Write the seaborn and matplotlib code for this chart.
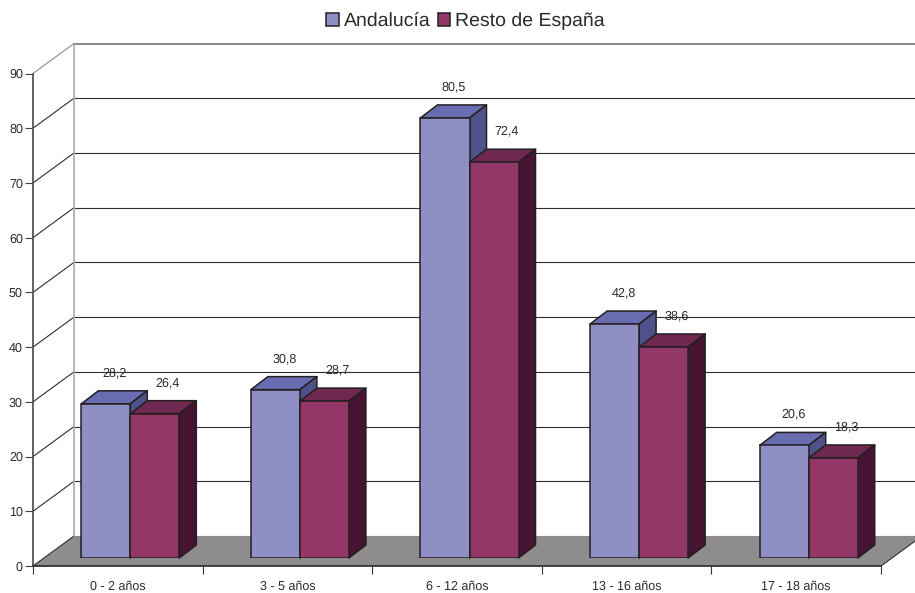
import numpy as np
import pandas as pd
import matplotlib
matplotlib.use("Agg")
import matplotlib.pyplot as plt
from matplotlib.patches import Polygon
from matplotlib.transforms import Affine2D, IdentityTransform
import seaborn as sns

# Values
grupos = ['0 - 2 años', '3 - 5 años', '6 - 12 años', '13 - 16 años', '17 - 18 años']
andalucia = [28.2, 30.8, 80.5, 42.8, 20.6]
resto = [26.4, 28.7, 72.4, 38.6, 18.3]
series = ['Andalucía', 'Resto de España']
y_ticks = [0, 10, 20, 30, 40, 50, 60, 70, 80, 90]

# Colours of each series: front, top, side
front = ['#8F8FC6', '#933769']
top = ['#6A6CB2', '#6F2850']
side = ['#4F5288', '#471332']
EDGE = '#231F20'

W, H = 915, 593

df = pd.DataFrame({
    'Grupo': grupos * 2,
    'Valor': andalucia + resto,
    'Serie': [series[0]] * 5 + [series[1]] * 5,
})

sns.set_style("white")
plt.rcParams['font.family'] = ['Liberation Sans', 'DejaVu Sans']
plt.rcParams['text.hinting'] = 'no_hinting'


def box(left, right, bottom, topp):
    # Pixel box of the picture to figure fractions
    return [left / W, 1 - bottom / H, (right - left) / W, (bottom - topp) / H]


fig = plt.figure(figsize=(W / 100, H / 100), dpi=100)

# Frame with the axes and the 3D walls
ax = fig.add_axes(box(33, 881, 566, 73.5))
ax.set_xlim(-0.5, 4.5)
ax.set_ylim(0, 90)
for s in ['top', 'right']:
    ax.spines[s].set_visible(False)
ax.spines['left'].set_color('#555555')
ax.spines['left'].set_linewidth(1.3)
ax.spines['bottom'].set_color('#333333')
ax.spines['bottom'].set_linewidth(1.3)
ax.spines['left'].set_zorder(5)
ax.spines['bottom'].set_zorder(5)

ax.set_yticks(y_ticks)
ax.tick_params(axis='y', left=True, length=5.8, width=0.8, color='#444444', pad=1.5, labelsize=9, labelcolor='#2b2b2b')
ax.set_xticks(np.arange(6) - 0.5, labels=[])
ax.tick_params(axis='x', which='major', bottom=True, length=5.8, width=0.8, color='#333333')
ax.set_xticks(np.arange(5), labels=grupos, minor=True)
ax.tick_params(axis='x', which='minor', bottom=False, length=0, pad=10.5, labelsize=9, labelcolor='#2b2b2b')

# Depth of the back wall, in pixels
wall_dx, wall_dy = 41, 30
wall = ax.transData + Affine2D().translate(wall_dx, wall_dy)

floor_front = ax.transData.transform([(-0.5, 0), (4.5, 0)])
floor = Polygon(
    [floor_front[0], floor_front[1], floor_front[1] + [wall_dx, wall_dy], floor_front[0] + [wall_dx, wall_dy]],
    closed=True, facecolor='#8E8C8C', edgecolor='none', transform=IdentityTransform(), clip_on=False, zorder=1,
)
ax.add_patch(floor)

for v in y_ticks:
    col = '#8A8A8A' if v in (0, 90) else '#2E2E2E'
    lw = 1.4 if v == 90 else 0.8
    ax.plot([-0.5, 4.5], [v, v], transform=wall, color=col, lw=lw, clip_on=False, zorder=2)
    p = ax.transData.transform((-0.5, v))
    ax.plot([p[0], p[0] + wall_dx], [p[1], p[1] + wall_dy], transform=IdentityTransform(),
            color='#8A8A8A' if v == 90 else '#2E2E2E', lw=0.8, clip_on=False, zorder=2)
ax.plot([-0.5, -0.5], [0, 90], transform=wall, color='#ABABAB', lw=1.2, clip_on=False, zorder=2)

p = ax.transData.transform((4.5, 0))
ax.plot([p[0], p[0] + wall_dx], [p[1], p[1] + wall_dy], transform=IdentityTransform(),
        color='#2E2E2E', lw=0.8, clip_on=False, zorder=2)

# Bars sit inside the depth of the floor, so their axes is shifted
ax_bars = fig.add_axes(box(33 + 12.5, 881 + 12.5, 558, 66))
ax_bars.patch.set_alpha(0)
sns.barplot(
    data=df, x='Grupo', y='Valor', hue='Serie', order=grupos, hue_order=series,
    palette=front, saturation=1, width=0.578, edgecolor=EDGE, linewidth=1.1, ax=ax_bars,
)
ax_bars.set_xlim(-0.5, 4.5)
ax_bars.set_ylim(0, 90)
ax_bars.axis('off')

sns.move_legend(
    ax_bars, 'center', bbox_to_anchor=(465.5 / W, 1 - 21.5 / H), bbox_transform=fig.transFigure,
    ncol=2, title=None, frameon=False, fontsize=14, handlelength=0.64, handleheight=0.64,
    handletextpad=0.25, columnspacing=0.4, labelcolor='#2b2b2b',
)

# Depth of the bars, in pixels
bar_dx, bar_dy = 17, 13
label_dx = [9, 13]

# Seaborn also leaves empty legend patches on the axes, only the first ten are bars
bars = list(ax_bars.patches)[:len(df)]
for i, bar in enumerate(bars):
    s = i // 5
    bar.set_zorder(3 + s * 2 + 1)
    x0, x1 = bar.get_x(), bar.get_x() + bar.get_width()
    h = bar.get_height()
    (l, t), (r, b) = ax_bars.transData.transform([(x0, h), (x1, 0)])
    d = np.array([bar_dx, bar_dy])
    top_face = [(l, t), (r, t), np.array((r, t)) + d, np.array((l, t)) + d]
    side_face = [(r, t), np.array((r, t)) + d, np.array((r, b)) + d, (r, b)]
    for pts, col in ((top_face, top[s]), (side_face, side[s])):
        ax_bars.add_patch(Polygon(
            pts, closed=True, facecolor=col, edgecolor=EDGE, linewidth=1.1, joinstyle='round',
            transform=IdentityTransform(), clip_on=False, zorder=3 + s * 2,
        ))
    ax_bars.annotate(
        f'{h:.1f}'.replace('.', ','), ((x0 + x1) / 2, h), xytext=(label_dx[s], 31),
        textcoords='offset pixels', ha='center', va='center', fontsize=9, color='#2b2b2b',
        annotation_clip=False, zorder=8,
    )

fig.savefig('out.png', dpi=100)
